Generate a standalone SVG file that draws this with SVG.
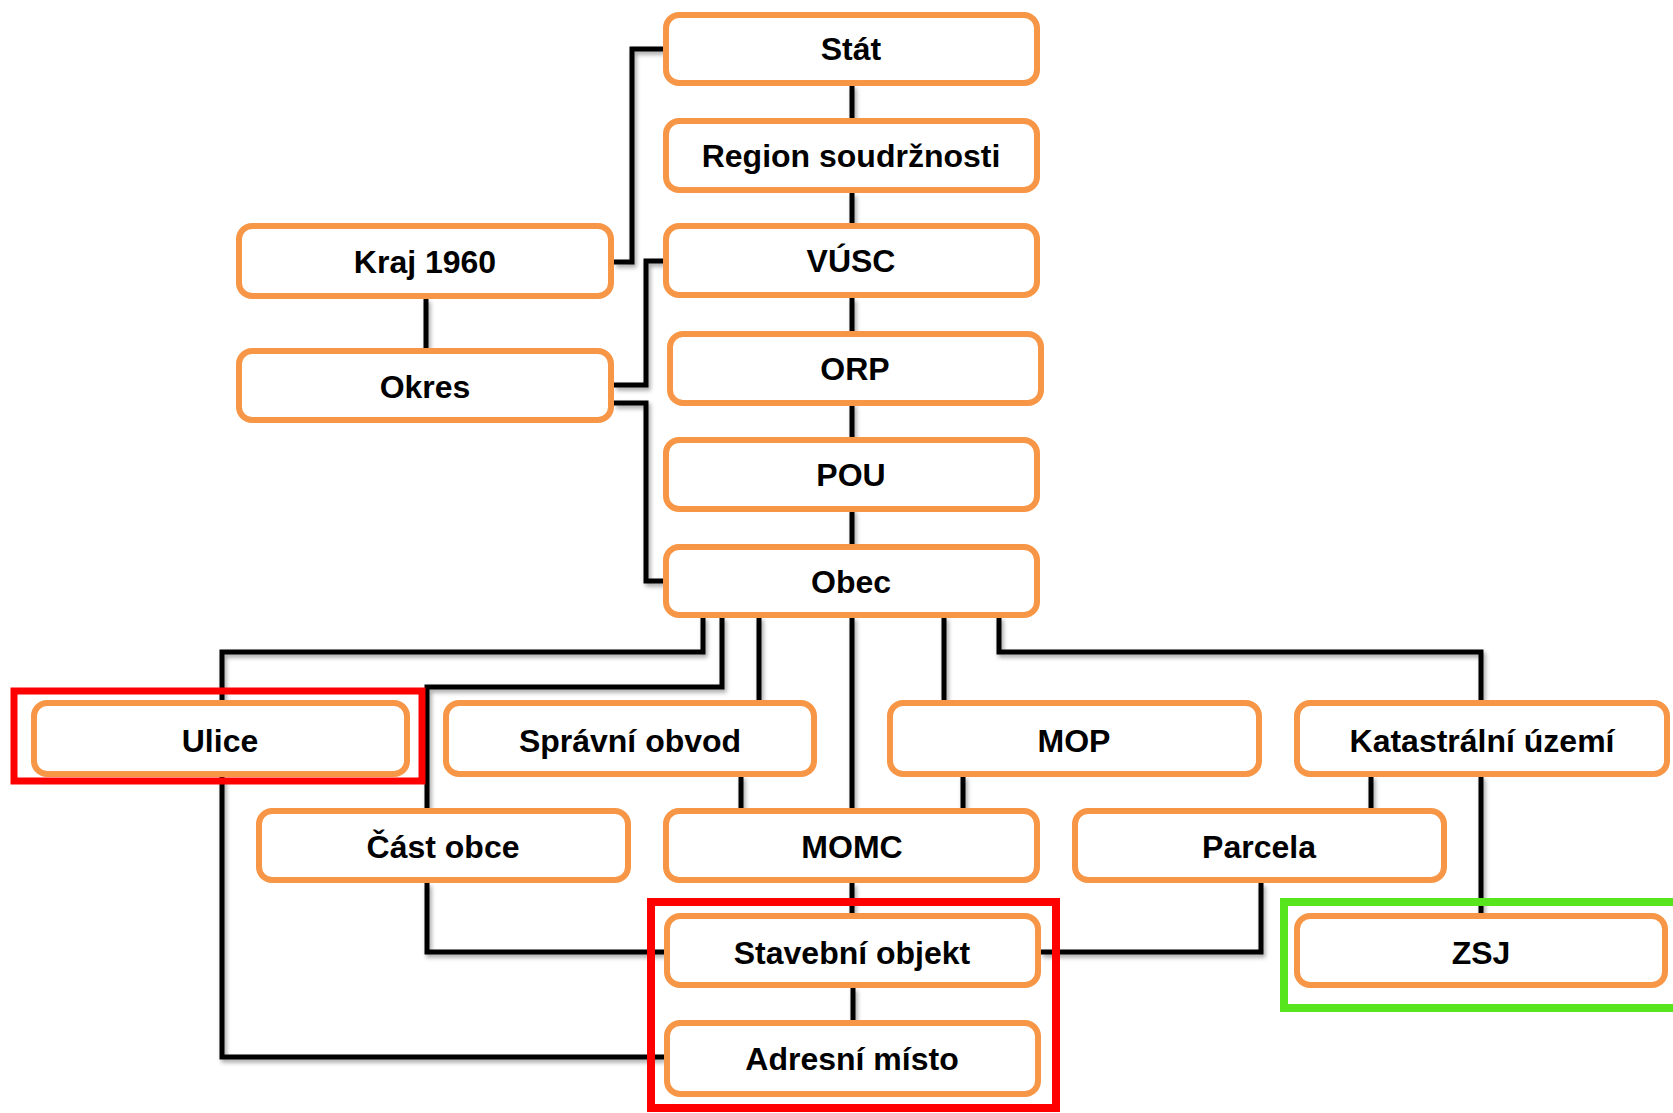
<svg xmlns="http://www.w3.org/2000/svg" width="1673" height="1113" viewBox="0 0 1673 1113">
<defs>
<style>
.box{fill:#fff;stroke:#F79646;stroke-width:6}
.lbl{font-family:"Liberation Sans",Arial,sans-serif;font-weight:bold;font-size:32px;fill:#000;text-anchor:middle}
.con{fill:none;stroke:#000;stroke-width:5;stroke-linejoin:miter}
.red{fill:none;stroke:#FF0000;stroke-width:7}
.green{fill:none;stroke:#57E51E;stroke-width:8}
</style>
<filter id="sh" x="-5%" y="-5%" width="110%" height="110%">
<feDropShadow dx="2" dy="3" stdDeviation="2" flood-color="#000" flood-opacity="0.35"/>
</filter>
</defs>
<rect width="1673" height="1113" fill="#fff"/>
<g id="connectors" filter="url(#sh)">
<path class="con" d="M614 262H632V49H663"/>
<path class="con" d="M426 299V348"/>
<path class="con" d="M614 385H646V261H663"/>
<path class="con" d="M614 403H646V581H663"/>
<path class="con" d="M852 85V118"/>
<path class="con" d="M852 193V223"/>
<path class="con" d="M852 298V333"/>
<path class="con" d="M852 403V440"/>
<path class="con" d="M852 509V545"/>
<path class="con" d="M703 617V652H222V700"/>
<path class="con" d="M722 617V687H427V808"/>
<path class="con" d="M759 617V700"/>
<path class="con" d="M852 617V808"/>
<path class="con" d="M944 617V700"/>
<path class="con" d="M999 617V652H1481V700"/>
<path class="con" d="M741 776V808"/>
<path class="con" d="M963 776V808"/>
<path class="con" d="M1371 776V808"/>
<path class="con" d="M1481 776V913"/>
<path class="con" d="M1261 883V952H1041"/>
<path class="con" d="M427 883V952H664"/>
<path class="con" d="M852 883V913"/>
<path class="con" d="M853 988V1020"/>
<path class="con" d="M222 777V1057H664"/>
</g>
<g id="stat"><rect class="box" x="666" y="15" width="371" height="68" rx="13"/><text class="lbl" x="851" y="60">Stát</text></g>
<g id="region"><rect class="box" x="666" y="121" width="371" height="69" rx="13"/><text class="lbl" x="851" y="167">Region soudržnosti</text></g>
<g id="vusc"><rect class="box" x="666" y="226" width="371" height="69" rx="13"/><text class="lbl" x="851" y="272">VÚSC</text></g>
<g id="orp"><rect class="box" x="670" y="334" width="371" height="69" rx="13"/><text class="lbl" x="855" y="380">ORP</text></g>
<g id="pou"><rect class="box" x="666" y="440" width="371" height="69" rx="13"/><text class="lbl" x="851" y="486">POU</text></g>
<g id="obec"><rect class="box" x="666" y="547" width="371" height="68" rx="13"/><text class="lbl" x="851" y="593">Obec</text></g>
<g id="kraj1960"><rect class="box" x="239" y="226" width="372" height="70" rx="13"/><text class="lbl" x="425" y="273">Kraj 1960</text></g>
<g id="okres"><rect class="box" x="239" y="351" width="372" height="69" rx="13"/><text class="lbl" x="425" y="398">Okres</text></g>
<g id="ulice"><rect class="box" x="34" y="703" width="373" height="71" rx="13"/><text class="lbl" x="220" y="752">Ulice</text></g>
<g id="spravni-obvod"><rect class="box" x="446" y="703" width="368" height="71" rx="13"/><text class="lbl" x="630" y="752">Správní obvod</text></g>
<g id="mop"><rect class="box" x="890" y="703" width="369" height="71" rx="13"/><text class="lbl" x="1074" y="752">MOP</text></g>
<g id="katastralni-uzemi"><rect class="box" x="1297" y="703" width="370" height="71" rx="13"/><text class="lbl" x="1482" y="752">Katastrální území</text></g>
<g id="cast-obce"><rect class="box" x="259" y="811" width="369" height="69" rx="13"/><text class="lbl" x="443" y="858">Část obce</text></g>
<g id="momc"><rect class="box" x="666" y="811" width="371" height="69" rx="13"/><text class="lbl" x="852" y="858">MOMC</text></g>
<g id="parcela"><rect class="box" x="1075" y="811" width="369" height="69" rx="13"/><text class="lbl" x="1259" y="858">Parcela</text></g>
<g id="stavebni-objekt"><rect class="box" x="667" y="916" width="371" height="69" rx="13"/><text class="lbl" x="852" y="964">Stavební objekt</text></g>
<g id="zsj"><rect class="box" x="1297" y="916" width="368" height="69" rx="13"/><text class="lbl" x="1481" y="964">ZSJ</text></g>
<g id="adresni-misto"><rect class="box" x="667" y="1023" width="371" height="71" rx="13"/><text class="lbl" x="852" y="1070">Adresní místo</text></g>
<g id="highlights">
<rect class="red" x="14" y="691" width="408" height="90"/>
<rect class="red" x="651" y="902" width="405" height="206" style="stroke-width:8"/>
<rect class="green" x="1284" y="902" width="420" height="106"/>
</g>
</svg>
